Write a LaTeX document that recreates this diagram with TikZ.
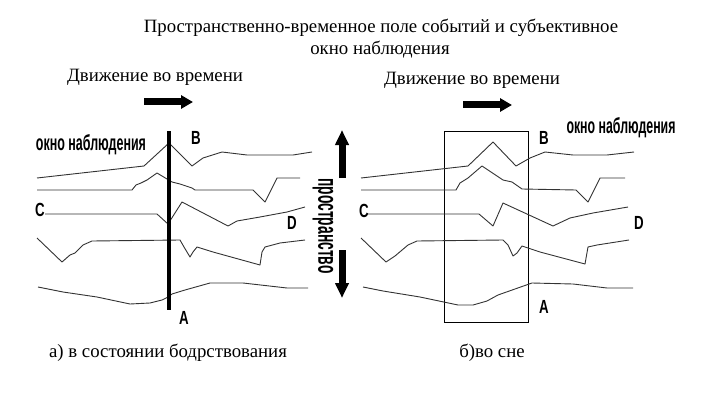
\documentclass[tikz,border=0pt]{standalone}
\usepackage{fontspec}
\setmainfont{Liberation Serif}
\newfontfamily\narrowsans{Liberation Sans}
\usetikzlibrary{arrows.meta}
\begin{document}
\begin{tikzpicture}[x=1pt,y=-1pt,
  serif/.style={font=\fontsize{18.8}{22}\selectfont, inner sep=0pt, anchor=base},
  lbl/.style={inner sep=0pt, anchor=center, font=\narrowsans\bfseries\fontsize{19}{19}\selectfont},
  wave/.style={draw=black!80, line width=0.9pt, line join=round},
  harrow/.style={line width=7pt, -{Triangle[length=12pt,width=13pt]}},
  varrow/.style={line width=7pt, -{Triangle[length=15pt,width=13pt]}}]
\useasboundingbox (0,0) rectangle (714,409);

% titles
\node[serif] (t1) at (381,33) {Пространственно-временное поле событий и субъективное};
\node[serif] (t2) at (380,55) {окно наблюдения};
\node[serif] (mvl) at (155,82) {Движение во времени};
\node[serif] (mvr) at (472,85) {Движение во времени};
\node[serif] (capa) at (168,357) {а) в состоянии бодрствования};
\node[serif] (capb) at (492,357) {б)во сне};

% time arrows
\coordinate (hl1) at (144,102); \coordinate (hl2) at (193,102);
\coordinate (hr1) at (463,105); \coordinate (hr2) at (512,105);
\draw[harrow] (hl1) -- (hl2);
\draw[harrow] (hr1) -- (hr2);

% space arrows
\coordinate (vu1) at (342,178); \coordinate (vu2) at (342,130);
\coordinate (vd1) at (342,250); \coordinate (vd2) at (342,298);
\draw[varrow] (vu1) -- (vu2);
\draw[varrow] (vd1) -- (vd2);
\node[inner sep=0pt, rotate=-90] (space) at (323,226)
  {\resizebox{95pt}{15pt}{\narrowsans\bfseries пространство}};

% ---- left diagram ----
\node[inner sep=0pt] (wl) at (91,145) {\resizebox{110pt}{16pt}{\narrowsans\bfseries окно наблюдения}};
\draw[wave] (37,178) -- (144,166) -- (169,143) -- (192,166) -- (203,158) -- (222,152) -- (247,155) -- (273,155) -- (293,155) -- (312,152);
\draw[wave] (37,190) -- (132,190) -- (136,185) -- (141,183) -- (147,180) -- (157,173) -- (172,182) -- (180,184) -- (192,188) -- (195,190) -- (253,190) -- (265,202) -- (277,178) -- (300,178);
\draw[wave] (45,214) -- (157,214) -- (168,224) -- (182,202) -- (228,226) -- (237,221) -- (260,217) -- (287,212) -- (305,207);
\draw[wave] (37,238) -- (62,262) -- (70,255) -- (75,253) -- (83,245) -- (92,241) -- (180,240) -- (184,247) -- (190,257) -- (193,252) -- (197,247) -- (213,252) -- (260,265) -- (262,252) -- (265,247) -- (280,243) -- (305,240);
\draw[wave] (38,287) -- (63,292) -- (97,297) -- (130,304) -- (150,303) -- (162,300) -- (168,297) -- (172,294) -- (185,290) -- (210,283) -- (243,283) -- (287,288) -- (308,288);
\draw[line width=4pt] (169,131) -- (169,310);
\node[lbl] (Bl) at (196,138) {\scalebox{0.7}[1]{B}};
\node[lbl] (Cl) at (40,210) {\scalebox{0.7}[1]{C}};
\node[lbl] (Dl) at (292,223) {\scalebox{0.7}[1]{D}};
\node[lbl] (Al) at (184,318) {\scalebox{0.7}[1]{A}};

% ---- right diagram ----
\node[inner sep=0pt] (wr) at (621,128) {\resizebox{109pt}{16pt}{\narrowsans\bfseries окно наблюдения}};
\draw[line width=1pt] (444,131) rectangle (528,322);
\draw[wave] (361,178) -- (468,166) -- (493,142) -- (516,166) -- (530,158) -- (545,152) -- (573,155) -- (607,155) -- (634,152);
\draw[wave] (361,190) -- (456,190) -- (460,183) -- (468,178) -- (482,166) -- (503,180) -- (512,182) -- (522,189) -- (576,190) -- (588,202) -- (600,178) -- (625,178);
\draw[wave] (367,214) -- (479,214) -- (493,226) -- (503,203) -- (553,226) -- (570,218) -- (593,213) -- (628,207);
\draw[wave] (361,238) -- (386,262) -- (395,256) -- (408,245) -- (417,241) -- (503,240) -- (508,245) -- (513,256) -- (517,253) -- (522,246) -- (540,252) -- (585,264) -- (588,247) -- (597,245) -- (629,240);
\draw[wave] (363,287) -- (383,291) -- (420,297) -- (458,305) -- (473,305) -- (487,301) -- (498,295) -- (532,283) -- (573,284) -- (607,288) -- (633,288);
\node[lbl] (Br) at (544,138) {\scalebox{0.7}[1]{B}};
\node[lbl] (Cr) at (364,211) {\scalebox{0.7}[1]{C}};
\node[lbl] (Dr) at (639,223) {\scalebox{0.7}[1]{D}};
\node[lbl] (Ar) at (544,307) {\scalebox{0.7}[1]{A}};
\end{tikzpicture}
\end{document}
